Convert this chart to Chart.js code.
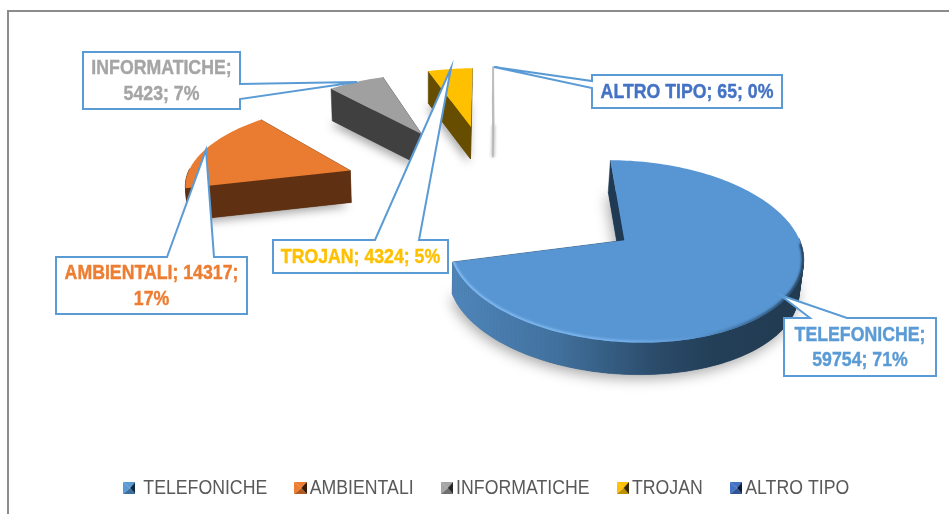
<!DOCTYPE html>
<html>
<head>
<meta charset="utf-8">
<style>
html,body{margin:0;padding:0;background:#fff;overflow:hidden}
canvas{display:block;filter:blur(.35px)}
</style>
<script src="https://cdn.jsdelivr.net/npm/chart.js@4"></script>
</head>
<body>
<canvas id="c" width="949" height="514"></canvas>
<script>
// ---- data ----
const categories = ["TELEFONICHE", "AMBIENTALI", "INFORMATICHE", "TROJAN", "ALTRO TIPO"];
const values = [59754, 14317, 5423, 4324, 65];
const percents = [71, 17, 7, 5, 0];

// ---- styles ----
const topColors = ["#5896D3", "#E97C30", "#A0A0A0", "#FFC000", "#C4C4C4"];
const wallColors = ["#2F5375", "#5F3012", "#404040", "#664D00", "#B0B0B0"];
const labelColors = ["#5B9BD5", "#ED7D31", "#A5A5A5", "#FFC000", "#4472C4"];
const legendColors = [["#5B9BD5","#3A6E9E","#0E2A40"],["#ED7D31","#B05A20","#3A1A05"],["#A5A5A5","#707070","#262626"],["#FFC000","#BF9000","#332600"],["#4472C4","#2F5597","#0C1B3A"]];

// ---- callout layout: box [x0,y0,x1,y1], tip, pointer base, line breaks ----
const callouts = [
  {box:[784,318,936,376], tip:[780,295], base:[[847,318],[810,318]], brk:1},
  {box:[56,257,247,314],  tip:[206,150], base:[[214,257],[167,257]], brk:2},
  {box:[83,52,240,109],   tip:[357,82],  base:[[240,84],[240,99]],   brk:1},
  {box:[273,240,448,273], tip:[451,68],  base:[[419,240],[375,240]], brk:0},
  {box:[592,75,782,108],  tip:[494,67],  base:[[592,81],[592,88]],   brk:0}
];

// ---- 3D view parameters ----
const view = {x0:494, y0:190, yh:-500, p:0.114, a:168, explode:0.91, depth:32, vx:430, vk:0.012};
const sliceNudge = [[2,3],[-2,1],[-1,1],[0,1],[0,0]];
const sliceWidth = [0.977,0.99,1,1,1];
// ---- legend text is condensed like the reference ----
const legendSqueeze = 0.885, legendShift = 69;

function project(X, Y, z, nudge){
  const w = 1 + view.p * Y;
  let sx = view.x0 + view.a * X / w + nudge[0];
  let sy = view.yh + (view.y0 - view.yh) / w + nudge[1];
  if (z) { sx += (view.vx - sx) * view.vk; sy += view.depth; }
  return [sx, sy];
}

function trace(ctx, pts){
  ctx.beginPath();
  pts.forEach((p,i)=> i ? ctx.lineTo(p[0],p[1]) : ctx.moveTo(p[0],p[1]));
  ctx.closePath();
}

function drawSlice(ctx, el, i){
  const a0 = el.startAngle, a1 = el.endAngle, mid = (a0+a1)/2, nudge = sliceNudge[i];
  const ax = view.explode*Math.cos(mid), ay = -view.explode*Math.sin(mid);
  const n = Math.max(2, Math.ceil((a1-a0)/(Math.PI/120)));
  const angs = [];
  for (let k=0;k<=n;k++) angs.push(a0+(a1-a0)*k/n);
  const world = angs.map(t=>[ax+sliceWidth[i]*Math.cos(t), ay-Math.sin(t)]);
  const top = world.map(q=>project(q[0],q[1],false,nudge));
  const bot = world.map(q=>project(q[0],q[1],true,nudge));
  const aT = project(ax,ay,false,nudge), aB = project(ax,ay,true,nudge);

  // soft ground shadow
  ctx.save();
  ctx.shadowColor = "rgba(0,0,0,0.35)";
  ctx.shadowBlur = i === 0 ? 14 : 10;
  ctx.shadowOffsetX = -2;
  ctx.shadowOffsetY = 4;
  ctx.fillStyle = wallColors[i];
  if (i < 4) { trace(ctx,[aB].concat(bot)); ctx.fill(); }
  ctx.restore();

  // wall colour
  const xs = bot.map(p=>p[0]);
  let wallFill = wallColors[i];
  if (i === 0) {
    const g = ctx.createLinearGradient(Math.min(...xs),0,Math.max(...xs),0);
    g.addColorStop(0,"#4F86BB"); g.addColorStop(.3,"#41719E");
    g.addColorStop(.6,"#2A4A68"); g.addColorStop(.75,"#233F58"); g.addColorStop(1,"#213A50");
    wallFill = g;
  }
  // cut faces
  [[aT,top[0],bot[0],aB],[aT,top[n],bot[n],aB]].forEach(q=>{
    ctx.fillStyle = i===0 ? "#1F3A52" : wallColors[i];
    ctx.strokeStyle = ctx.fillStyle;
    ctx.lineWidth = .5;
    trace(ctx,q); ctx.fill(); ctx.stroke();
  });
  // outer wall, only segments facing the viewer
  for (let k=0;k<n;k++){
    const t = (angs[k]+angs[k+1])/2;
    if (Math.sin(t) < -0.02) continue;
    ctx.fillStyle = wallFill; ctx.strokeStyle = wallFill; ctx.lineWidth = .6;
    trace(ctx,[top[k],top[k+1],bot[k+1],bot[k]]); ctx.fill(); ctx.stroke();
  }
  // top face
  ctx.fillStyle = topColors[i];
  trace(ctx,[aT].concat(top)); ctx.fill();
  // bevel rim on the near edge
  if (i === 0) {
    ctx.save();
    trace(ctx,[aT].concat(top)); ctx.clip();
    ctx.filter = "blur(1.2px)";
    const g = ctx.createLinearGradient(452,0,803,0);
    g.addColorStop(0,"#86BDF2"); g.addColorStop(.5,"#79B3EC");
    g.addColorStop(.7,"#5A95CF"); g.addColorStop(.85,"#3A6A96"); g.addColorStop(1,"#1F3A52");
    ctx.strokeStyle = g; ctx.lineWidth = 4; ctx.lineCap = "round";
    ctx.beginPath();
    let on = false;
    for (let k=0;k<=n;k++){
      if (Math.sin(angs[k]) < 0.05) continue;
      on ? ctx.lineTo(top[k][0],top[k][1]) : ctx.moveTo(top[k][0],top[k][1]);
      on = true;
    }
    ctx.stroke();
    ctx.restore();
  }
  if (i === 4) {
    ctx.strokeStyle = "#BDBDBD"; ctx.lineWidth = 1.6;
    ctx.beginPath(); ctx.moveTo(top[0][0],top[0][1]); ctx.lineTo(aT[0],aT[1]); ctx.stroke();
    ctx.save();
    ctx.filter = "blur(1.4px)";
    ctx.strokeStyle = "#B8B8B8"; ctx.lineWidth = 3;
    ctx.beginPath(); ctx.moveTo(aT[0],aT[1]); ctx.lineTo(aB[0],aB[1]); ctx.stroke();
    ctx.restore();
  }
}

function drawCallout(ctx, c, i){
  const [x0,y0,x1,y1] = c.box;
  const b = c.base;
  ctx.beginPath();
  ctx.moveTo(x0,y0);
  if (b[0][1] === y0) {            // pointer leaves the top side
    const low = b[1], high = b[0];
    ctx.lineTo(low[0],low[1]); ctx.lineTo(c.tip[0],c.tip[1]); ctx.lineTo(high[0],high[1]);
    ctx.lineTo(x1,y0); ctx.lineTo(x1,y1); ctx.lineTo(x0,y1);
  } else if (b[0][0] === x1) {     // right side
    ctx.lineTo(x1,y0); ctx.lineTo(b[0][0],b[0][1]); ctx.lineTo(c.tip[0],c.tip[1]);
    ctx.lineTo(b[1][0],b[1][1]); ctx.lineTo(x1,y1); ctx.lineTo(x0,y1);
  } else {                         // left side
    ctx.lineTo(x1,y0); ctx.lineTo(x1,y1); ctx.lineTo(x0,y1);
    ctx.lineTo(b[1][0],b[1][1]); ctx.lineTo(c.tip[0],c.tip[1]); ctx.lineTo(b[0][0],b[0][1]);
  }
  ctx.closePath();
  ctx.fillStyle = "#fff"; ctx.fill();
  ctx.strokeStyle = "#5B9BD5"; ctx.lineWidth = 2; ctx.lineJoin = "miter"; ctx.stroke();

  const parts = [categories[i]+";", values[i]+";", percents[i]+"%"];
  const lines = c.brk === 0 ? [parts.join(" ")]
    : [parts.slice(0,c.brk).join(" "), parts.slice(c.brk).join(" ")];
  ctx.fillStyle = labelColors[i];
  ctx.strokeStyle = labelColors[i];
  ctx.lineWidth = .4;
  ctx.font = "bold 20px 'Liberation Sans'";
  ctx.textAlign = "center"; ctx.textBaseline = "middle";
  const cx = (x0+x1)/2, cy = (y0+y1)/2 + 1;
  lines.forEach((t,k)=>{
    const y = cy + (k-(lines.length-1)/2)*25.5;
    const w = ctx.measureText(t).width*0.885;
    ctx.fillText(t, cx, y, w);
    ctx.strokeText(t, cx, y, w);
  });
}

const pie3d = {
  id:"pie3d",
  beforeDraw(chart){
    const ctx = chart.ctx;
    ctx.fillStyle = "#fff"; ctx.fillRect(0,0,949,514);
    ctx.strokeStyle = "#8C8C8C"; ctx.lineWidth = 2;
    ctx.beginPath(); ctx.moveTo(8,514); ctx.lineTo(8,11); ctx.lineTo(949,11); ctx.stroke();
    // the legend is drawn next by Chart.js: condense it horizontally
    ctx.save();
    ctx.translate(legendShift,0);
    ctx.scale(legendSqueeze,1);
  },
  beforeDatasetsDraw(chart){
    const ctx = chart.ctx, arcs = chart.getDatasetMeta(0).data;
    ctx.restore();
    ctx.save();
    for (let i=arcs.length-1;i>=0;i--) drawSlice(ctx,arcs[i],i);
    callouts.forEach((c,i)=>drawCallout(ctx,c,i));
    ctx.restore();
    return false;
  }
};

function marker(cols){
  const s = document.createElement("canvas");
  s.width = 14; s.height = 12;
  const m = s.getContext("2d"), L = 0, R = 14, T = 0, B = 12, cx = 8, cy = 6;
  const tri = (a,b,f)=>{ m.fillStyle=f; m.beginPath(); m.moveTo(a[0],a[1]); m.lineTo(b[0],b[1]); m.lineTo(cx,cy); m.closePath(); m.fill(); };
  tri([L,T],[R,T],cols[0]); tri([L,B],[R,B],cols[1]); tri([L,T],[L,B],cols[0]); tri([R,T],[R,B],cols[2]);
  return s;
}

new Chart(document.getElementById("c"),{
  type:"pie",
  data:{labels:categories,datasets:[{data:values,backgroundColor:topColors,borderWidth:0}]},
  plugins:[pie3d],
  options:{
    responsive:false, animation:false, devicePixelRatio:1,
    layout:{padding:{bottom:6,top:0,left:0,right:0}},
    plugins:{
      tooltip:{enabled:false},
      legend:{
        position:"bottom",
        labels:{
          usePointStyle:true, pointStyleWidth:1, padding:37, color:"#595959",
          font:{family:"'Liberation Sans'",size:20},
          generateLabels:()=>categories.map((t,i)=>({text:(i===0?" ":"")+t,fillStyle:topColors[i],strokeStyle:topColors[i],fontColor:"#595959",lineWidth:0,hidden:false,index:i,pointStyle:marker(legendColors[i])}))
        }
      }
    }
  }
});
</script>
</body>
</html>
